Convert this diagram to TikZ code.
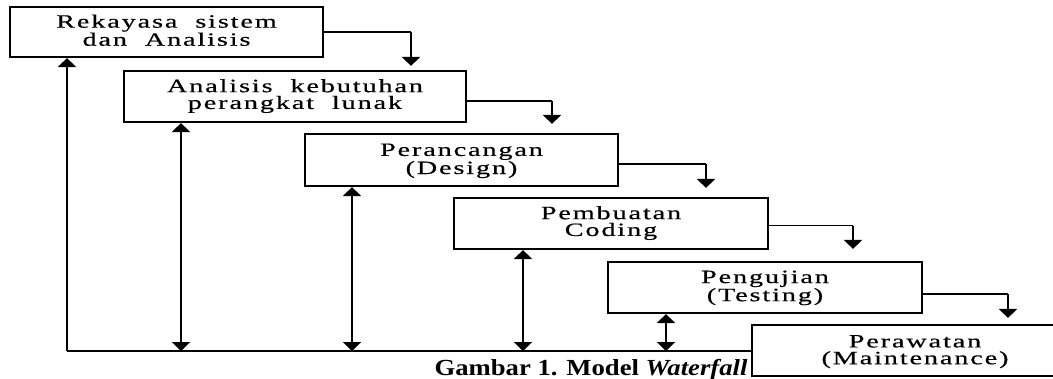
\documentclass[tikz,border=0pt]{standalone}
\usepackage{fontspec}
\setmainfont{Liberation Serif}
\newfontfamily\boxfont{Liberation Serif}[FakeStretch=1.5,LetterSpace=10,WordSpace=2.0,FakeBold=0.5]
\newfontfamily\capfont{Liberation Serif}[FakeStretch=1.16]
\usetikzlibrary{arrows.meta}

\tikzset{
  stage/.style={draw, line width=2.2pt, inner sep=0pt, minimum height=51pt},
  stagetext/.style={anchor=north, inner sep=0pt, align=center,
    font=\boxfont\fontsize{18.8pt}{16.8pt}\selectfont},
  feed/.style={line width=1.5pt},
  drop/.style={line width=2.6pt, -{Triangle[width=18pt,length=9pt]}},
  twoway/.style={line width=2.6pt,
    {Triangle[width=18pt,length=9pt]}-{Triangle[width=18pt,length=9pt]}},
  caption/.style={anchor=base, inner sep=0pt,
    font=\capfont\fontsize{23pt}{23pt}\selectfont\bfseries}
}

\begin{document}
\begin{tikzpicture}[x=1pt, y=-1pt]
  \useasboundingbox (0,0) rectangle (1053,378);
  \clip (0,0) rectangle (1053,378);

  % stage boxes
  \node[stage, minimum width=313pt, minimum height=50pt] (b1) at (166.5,32) {};
  \node[stage, minimum width=342pt] (b2) at (295,96.5) {};
  \node[stage, minimum width=313pt, minimum height=52pt] (b3) at (461.5,160) {};
  \node[stage, minimum width=314pt] (b4) at (611,223.5) {};
  \node[stage, minimum width=314pt] (b5) at (765,287.5) {};
  \node[stage, minimum width=326pt] (b6) at (915,350.5) {};

  % stage names
  \node[stagetext] (t1) at ([yshift=-8.5pt]b1.north) {Rekayasa sistem\\dan Analisis};
  \node[stagetext] (t2) at ([yshift=-9pt]b2.north) {Analisis kebutuhan\\perangkat lunak};
  \node[stagetext] (t3) at ([yshift=-10.5pt]b3.north) {Perancangan\\(Design)};
  \node[stagetext] (t4) at ([yshift=-9pt]b4.north) {Pembuatan\\Coding};
  \node[stagetext] (t5) at ([yshift=-9.5pt]b5.north) {Pengujian\\(Testing)};
  \node[stagetext] (t6) at ([yshift=-11pt]b6.north) {Perawatan\\(Maintenance)};

  % cascade from each stage down to the next
  \coordinate (k1) at (411,32);
  \coordinate (k2) at (552,101);
  \coordinate (k3) at (706,164);
  \coordinate (k4) at (853,225.5);
  \coordinate (k5) at (1008,294);
  \draw[feed] (b1.east |- k1) -- (k1);
  \draw[drop, shorten >=4pt] (k1) -- (k1 |- b2.north);
  \draw[feed] (b2.east |- k2) -- (k2);
  \draw[drop, shorten >=9pt] (k2) -- (k2 |- b3.north);
  \draw[feed] (b3.east |- k3) -- (k3);
  \draw[drop, shorten >=9pt] (k3) -- (k3 |- b4.north);
  \draw[feed] (b4.east |- k4) -- (k4);
  \draw[drop, shorten >=12pt] (k4) -- (k4 |- b5.north);
  \draw[feed] (b5.east |- k5) -- (k5);
  \draw[drop, shorten >=6pt] (k5) -- (k5 |- b6.north);

  % feedback line along the bottom
  \coordinate (f1) at (67,351);
  \coordinate (f2) at (181,351);
  \coordinate (f3) at (352,351);
  \coordinate (f4) at (523,351);
  \coordinate (f5) at (666,351);
  \draw[feed] (f1) -- (f1 -| b6.west);
  \draw[drop] (f1) -- (f1 |- b1.south);
  \draw[twoway] (f2) -- (f2 |- b2.south);
  \draw[twoway] (f3) -- (f3 |- b3.south);
  \draw[twoway] (f4) -- (f4 |- b4.south);
  \draw[twoway] (f5) -- (f5 |- b5.south);

  % caption
  \node[caption] (cap) at (591,375) {Gambar 1. Model \textit{Waterfall}};
\end{tikzpicture}
\end{document}
